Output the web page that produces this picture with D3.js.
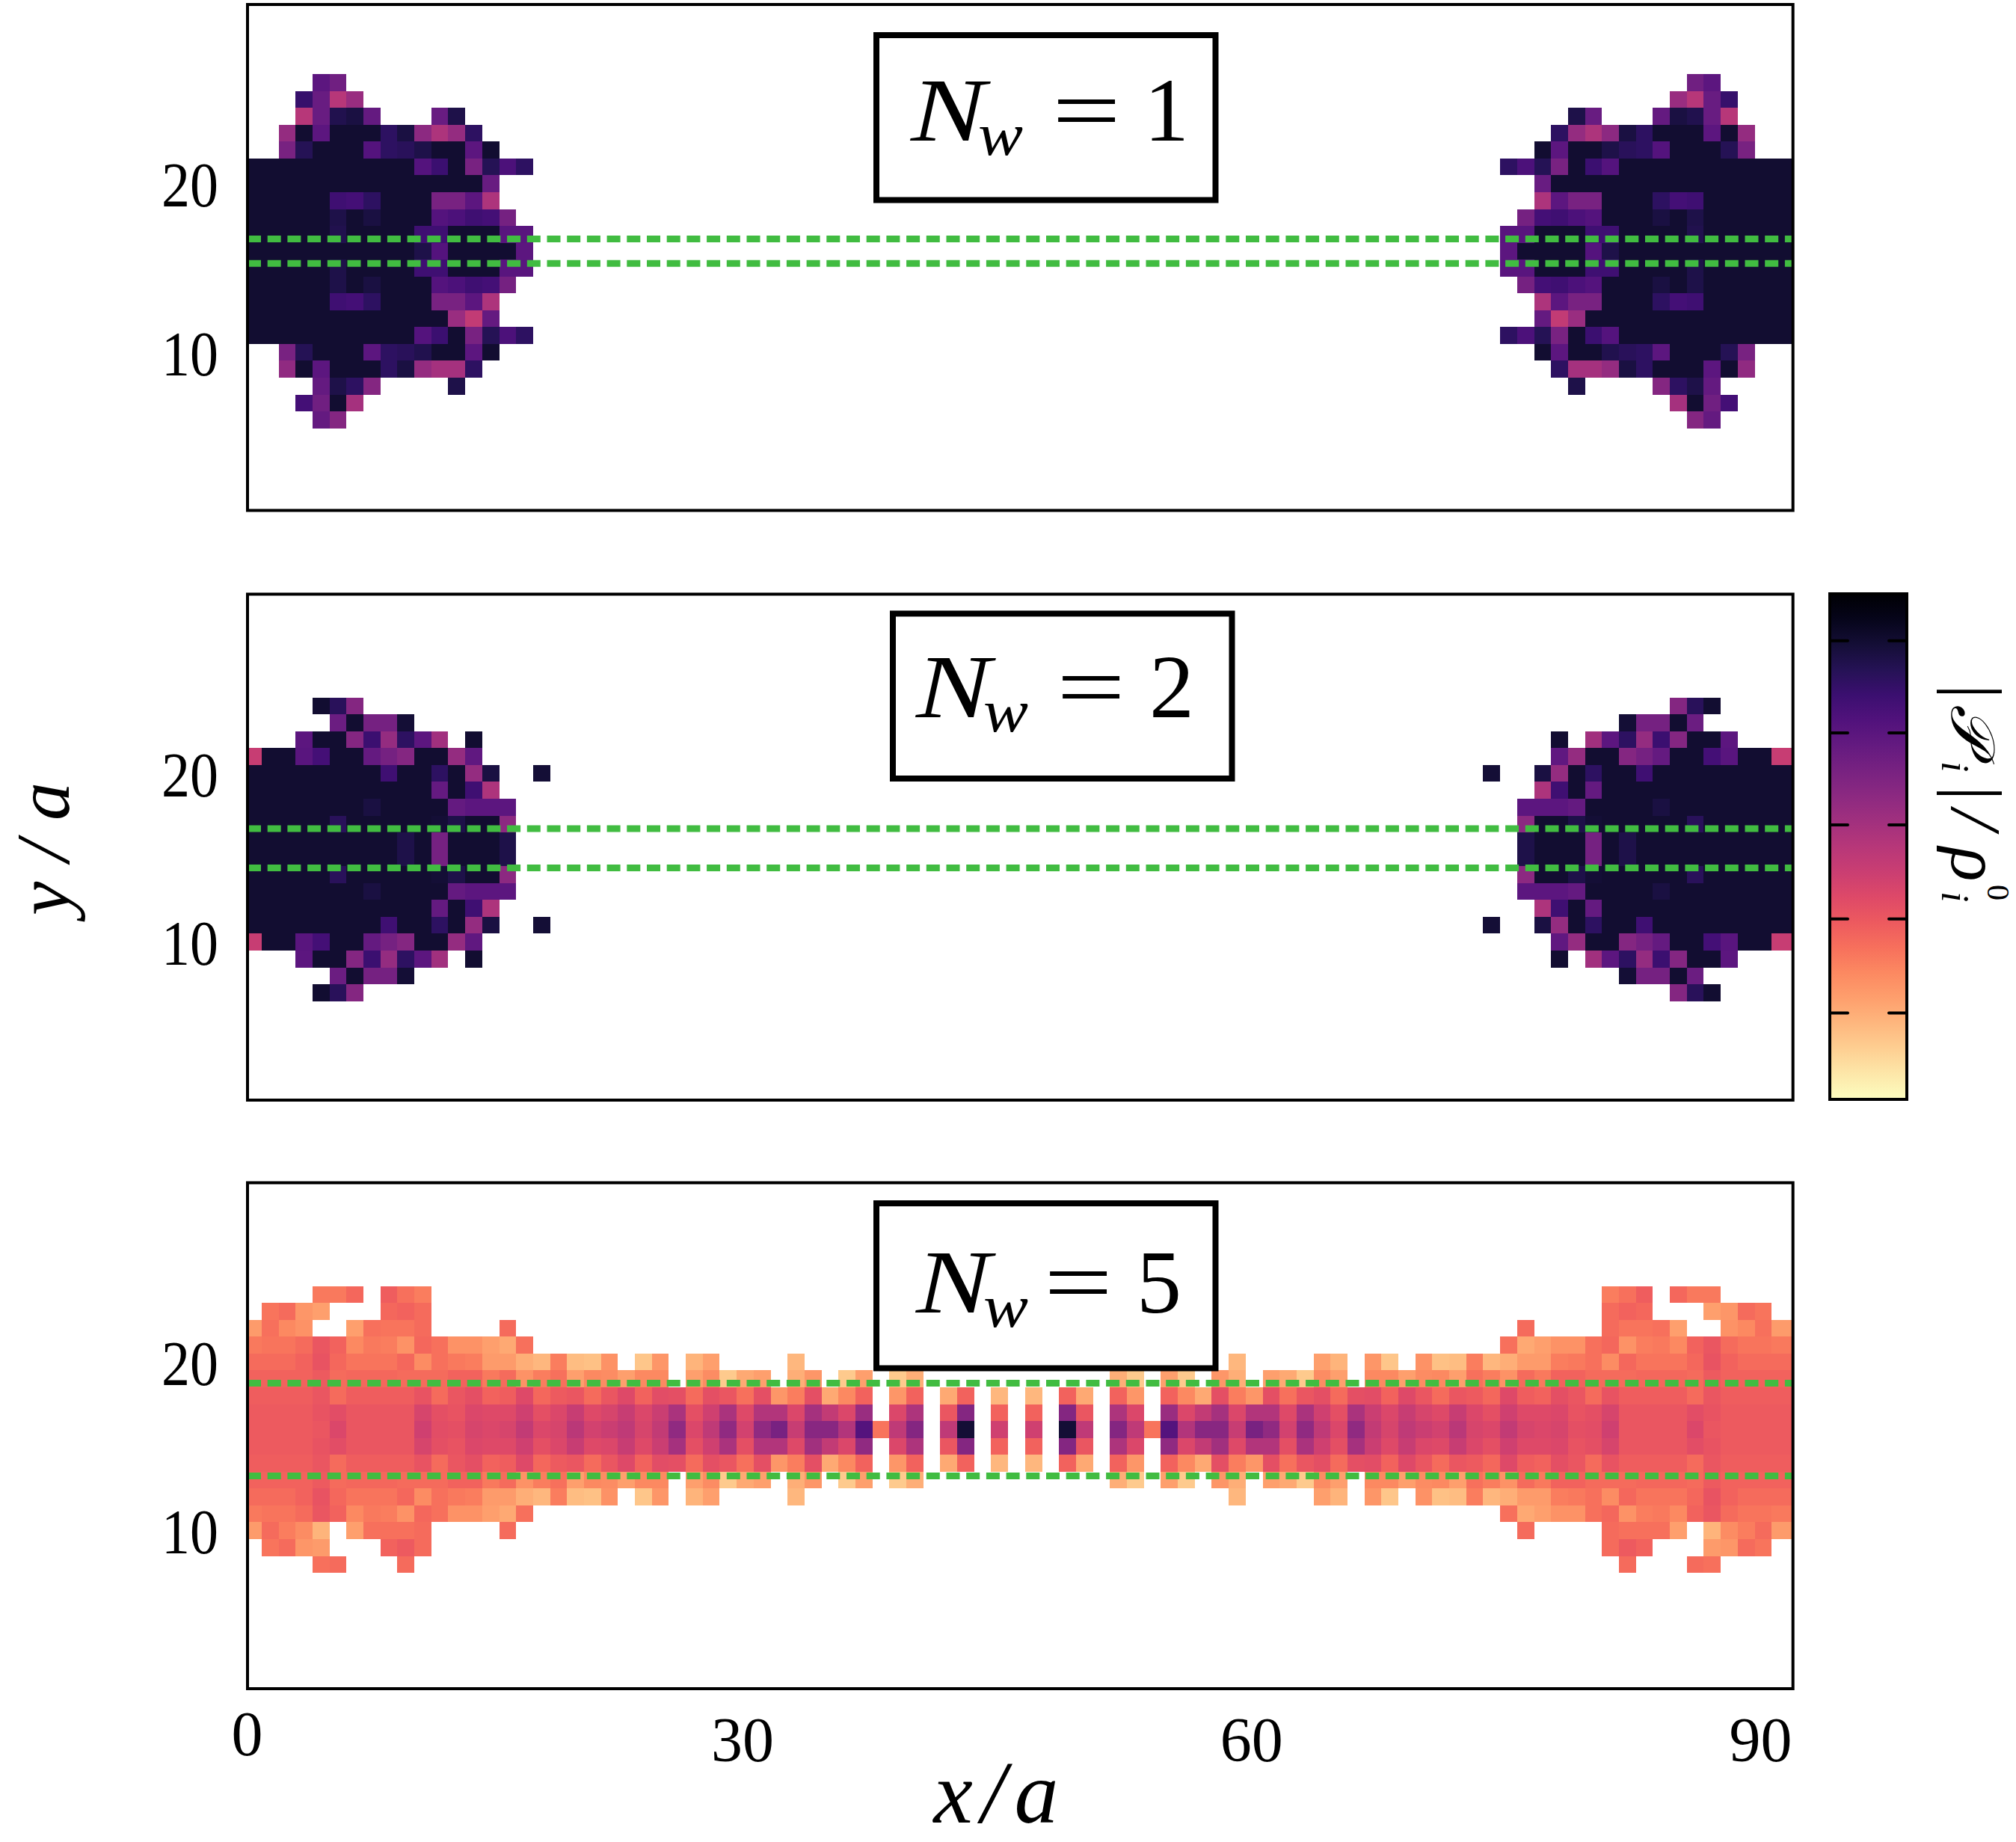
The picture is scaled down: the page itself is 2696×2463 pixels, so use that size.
<!DOCTYPE html>
<html>
<head>
<meta charset="utf-8">
<script src="https://cdnjs.cloudflare.com/ajax/libs/d3/7.8.5/d3.min.js"></script>
<style>
  html, body { margin: 0; padding: 0; background: #fff; }
  text { font-family: "Liberation Serif", serif; fill: #000; }
</style>
</head>
<body>
<div id="grafico"></div>
<script>
const _ = null;

// valores, 0-100 na barra de cor (100 = topo escuro), metade esquerda
// cada linha vai da coluna 0 em diante, a direita e o espelho (coluna 90 - c)
const rowsNw1 = [
  [_,_,_,_,72,67],
  [_,_,_,81,69,50,57],
  [_,_,_,50,69,86,88,70,_,_,_,69,87],
  [_,_,58,91,72,91,91,91,83,88,60,52,58,83],
  [_,_,65,85,91,91,91,74,83,84,87,91,91,72,91],
  [91,91,91,91,91,91,91,91,91,91,74,80,91,65,85,76,83],
  [91,91,91,91,91,91,91,91,91,91,91,91,91,91,69],
  [91,91,91,91,91,79,78,83,91,91,91,65,65,72,52],
  [91,91,91,91,91,87,91,88,91,91,91,74,76,79,78,66],
  [91,91,91,91,91,86,91,91,91,91,79,79,91,91,91,73,73],
  [91,91,91,91,91,91,91,91,91,91,87,74,91,91,91,91,72],
  [91,91,91,91,91,87,91,91,91,91,79,79,91,91,91,73,73],
  [91,91,91,91,91,87,91,88,91,91,91,74,76,79,78,66],
  [91,91,91,91,91,79,78,83,91,91,91,65,65,72,52],
  [91,91,91,91,91,91,91,91,91,91,91,91,57,47,70],
  [91,91,91,91,91,91,91,91,91,91,74,80,91,65,85,76,83],
  [_,_,65,85,91,91,91,72,83,84,86,91,91,72,91],
  [_,_,59,91,72,91,91,91,83,88,58,54,54,83],
  [_,_,_,_,70,87,83,62,_,_,_,_,87],
  [_,_,_,78,67,91,54],
  [_,_,_,_,70,62]
];
const rowsNw2 = [
  [_,_,_,_,91,84,62],
  [_,_,_,_,_,68,91,66,66,90],
  [_,_,_,72,91,91,62,80,58,83,72,55,_,91],
  [46,91,91,73,78,91,91,70,66,62,91,91,58,71],
  [91,91,91,91,91,91,91,91,79,91,91,83,91,58,88,_,_,90],
  [91,91,91,91,91,91,91,91,91,91,91,70,91,79,52],
  [91,91,91,91,91,91,91,88,91,91,91,91,70,72,72,72],
  [91,91,91,91,91,84,91,91,91,91,91,90,87,91,91,60],
  [91,91,91,91,91,91,91,91,91,87,91,66,91,91,91,87],
  [91,91,91,91,91,91,91,91,91,87,91,66,91,91,91,87],
  [91,91,91,91,91,84,91,91,91,91,91,90,87,91,91,60],
  [91,91,91,91,91,91,91,88,91,91,91,91,70,72,72,72],
  [91,91,91,91,91,91,91,91,91,91,91,70,91,79,52],
  [91,91,91,91,91,91,91,91,79,91,91,83,91,58,88,_,_,90],
  [46,91,91,73,78,91,91,70,66,62,91,91,58,71],
  [_,_,_,72,91,91,62,80,58,83,72,55,_,91],
  [_,_,_,_,_,68,91,66,66,90],
  [_,_,_,_,91,84,62]
];
const rowsNw5 = [
  [_,_,_,_,28,28,32,_,34,30,27],
  [_,29,31,22,20,_,_,_,32,33,31],
  [21,30,25,23,_,_,20,30,29,29,31,_,_,_,_,31],
  [28,29,29,31,36,33,25,28,27,23,32,30,23,23,20,18,30],
  [31,31,31,33,37,32,29,29,29,32,24,30,28,27,21,21,17,15,27,14,13,23,_,12,22,_,16,20,_,_,_,_,15],
  [33,33,33,33,35,31,32,32,32,31,31,31,33,33,28,31,23,27,30,20,25,24,20,25,25,_,20,24,11,18,20,_,17,22,_,11,20,_,11,17],
  [34,34,34,34,36,31,34,34,34,34,37,31,36,38,33,34,40,32,35,36,31,36,40,33,39,38,31,38,36,30,38,22,27,38,18,25,33,_,22,33,_,18,33,_,15],
  [35,35,35,35,37,39,36,36,36,36,42,38,37,41,40,40,44,38,41,46,40,42,46,41,45,53,38,44,53,40,51,51,41,54,47,41,57,_,41,52,_,36,62,_,33],
  [35,35,35,35,36,41,36,36,36,36,44,39,38,42,41,42,47,41,42,49,43,45,48,42,47,59,41,48,59,43,59,65,46,61,61,51,74,29,48,62,_,48,90,_,44],
  [35,35,35,35,37,39,36,36,36,36,42,38,37,41,40,40,44,38,41,46,40,41,46,40,45,54,38,44,53,38,51,51,40,55,47,41,59,_,41,52,_,36,62,_,33],
  [34,34,34,34,36,31,34,34,34,34,37,31,36,38,33,34,40,32,35,36,31,36,40,33,39,38,31,38,36,30,38,22,27,38,18,25,33,_,22,33,_,18,33,_,15],
  [33,33,33,33,35,31,32,32,32,31,31,31,33,33,28,31,23,27,30,20,25,24,20,25,25,_,20,24,11,18,20,_,17,22,_,11,20,_,11,17],
  [31,31,31,33,37,32,29,29,29,32,24,30,28,27,21,21,17,15,27,14,13,23,_,12,22,_,16,20,_,_,_,_,15],
  [28,29,29,31,36,33,25,28,27,23,32,30,23,23,20,18,30],
  [21,31,27,24,16,_,20,30,30,30,31,_,_,_,_,31],
  [_,29,31,22,21,_,_,_,33,35,31],
  [_,_,_,_,30,31,_,_,_,31]
];

const panelLabels = ["1", "2", "5"];
const topRows = [26, 24, 24];
const leadEdges = [[16.73, 15.28], [16.73, 14.4], [18.74, 13.25]];
const yTickValues = [10, 20];
const xTickValues = [0.8, 30, 60, 90];
const xTickLabels = ["0", "30", "60", "90"];
const cbarTicks = [90.7, 72.5, 54.3, 35.7, 17.1];

const largura = 2696, altura = 2463;
const frameLeft = 331, frameRight = 2397.7;
const panelTops = [6, 794.5, 1581.5];
const panelBottoms = [682.5, 1471, 2258];
const boxLefts = [1172, 1194, 1172];
const boxTops = [47, 820.5, 1609];
const boxW = 453.5, boxH = 220.5;
const labelShift = [[46, 141], [31, 138], [53, 146]];
const eqShift = [189, 188, 171];
const digitShift = [312, 312, 295];

let svg = d3.select('#grafico').append('svg')
  .attr('width', largura)
  .attr('height', altura)
  .style('display', 'block');

let color = d3.scaleSequential(d3.interpolateMagma).domain([100, 0]);

let xScale = d3.scaleLinear().domain([0.8, 91.9]).range([frameLeft - 1, frameRight - 0.7]).clamp(true);

function flatten(rows, topRow) {
  let cells = [];
  rows.forEach((row, i) => {
    row.forEach((v, c) => {
      if (v === null) return;
      cells.push({ c: c, y: topRow - i, v: v });
      if (c !== 45) cells.push({ c: 90 - c, y: topRow - i, v: v });
    });
  });
  return cells;
}

const allRows = [rowsNw1, rowsNw2, rowsNw5];

allRows.forEach((rows, p) => {
  let yScale = d3.scaleLinear().domain([0.63, 30.63]).range([panelBottoms[p], panelTops[p]]);
  let g = svg.append('g').attr('class', 'painel');

  // celulas
  g.append('g').selectAll('rect')
    .data(flatten(rows, topRows[p]))
    .enter()
    .append('rect')
    .attr('x', d => xScale(d.c + 0.675))
    .attr('y', d => yScale(d.y + 0.5))
    .attr('width', d => (d.c === 90 ? xScale.range()[1] : xScale(d.c + 1.675)) - xScale(d.c + 0.675))
    .attr('height', d => yScale(d.y - 0.5) - yScale(d.y + 0.5))
    .attr('fill', d => color(d.v))
    .attr('shape-rendering', 'crispEdges');

  // linhas verdes
  g.append('g').selectAll('line')
    .data(leadEdges[p])
    .enter()
    .append('line')
    .attr('x1', frameLeft)
    .attr('x2', frameRight)
    .attr('y1', d => yScale(d))
    .attr('y2', d => yScale(d))
    .attr('stroke', '#41bc41')
    .attr('stroke-width', 9)
    .attr('stroke-dasharray', '18,8.7');

  // moldura
  g.append('rect')
    .attr('x', frameLeft)
    .attr('y', panelTops[p])
    .attr('width', frameRight - frameLeft)
    .attr('height', panelBottoms[p] - panelTops[p])
    .attr('fill', 'none')
    .attr('stroke', '#000')
    .attr('stroke-width', 4);

  // eixo y
  let yAxis = g.append('g')
    .attr('transform', 'translate(' + frameLeft + ',0)')
    .call(d3.axisLeft(yScale).tickValues(yTickValues).tickSize(0).tickPadding(39));
  yAxis.select('.domain').remove();
  yAxis.selectAll('text')
    .style('font-family', '"Liberation Serif", serif')
    .style('font-size', '84px')
    .attr('dy', '0.36em')
    .attr('textLength', 76)
    .attr('lengthAdjust', 'spacingAndGlyphs');

  // caixa com N_w
  g.append('rect')
    .attr('x', boxLefts[p])
    .attr('y', boxTops[p])
    .attr('width', boxW)
    .attr('height', boxH)
    .attr('fill', '#fff')
    .attr('stroke', '#000')
    .attr('stroke-width', 8);

  let lx = boxLefts[p] + labelShift[p][0];
  let ly = boxTops[p] + labelShift[p][1];
  g.append('text').attr('x', lx).attr('y', ly)
    .attr('font-size', 120).attr('font-style', 'italic')
    .attr('textLength', 100).attr('lengthAdjust', 'spacingAndGlyphs').text('N');
  g.append('text').attr('x', lx + 90).attr('y', ly + 19)
    .attr('font-size', 80).attr('font-style', 'italic')
    .attr('textLength', 60).attr('lengthAdjust', 'spacingAndGlyphs').text('w');
  g.append('text').attr('x', lx + eqShift[p]).attr('y', ly)
    .attr('font-size', 120)
    .attr('textLength', 92).attr('lengthAdjust', 'spacingAndGlyphs').text('=');
  g.append('text').attr('x', lx + digitShift[p]).attr('y', ly)
    .attr('font-size', 120)
    .text(panelLabels[p]);
});

// eixo x
let xAxis = svg.append('g')
  .attr('transform', 'translate(0,' + panelBottoms[2] + ')')
  .call(d3.axisBottom(xScale).tickValues(xTickValues).tickSize(0).tickFormat((d, i) => xTickLabels[i]));
xAxis.select('.domain').remove();
xAxis.selectAll('text')
  .style('font-family', '"Liberation Serif", serif')
  .style('font-size', '84px')
  .attr('dy', 0)
  .attr('y', (d, i) => i === 0 ? 89 : 97);

svg.append('text')
  .attr('x', 1332).attr('y', 2437)
  .attr('text-anchor', 'middle')
  .attr('font-size', 118).attr('font-style', 'italic')
  .attr('textLength', 167).attr('lengthAdjust', 'spacing')
  .text('x/a');

svg.append('text')
  .attr('transform', 'translate(92,1135) rotate(-90)')
  .attr('text-anchor', 'middle')
  .attr('font-size', 102).attr('font-style', 'italic')
  .attr('textLength', 178).attr('lengthAdjust', 'spacing')
  .text('y/a');

// barra de cor
const barLeft = 2447, barRight = 2550, barTop = 794, barBottom = 1470;
let cbar = d3.scaleLinear().domain([0, 100]).range([barBottom, barTop]);

let grad = svg.append('defs').append('linearGradient')
  .attr('id', 'magma').attr('x1', 0).attr('x2', 0).attr('y1', 0).attr('y2', 1);
grad.selectAll('stop')
  .data(d3.range(0, 101, 5))
  .enter()
  .append('stop')
  .attr('offset', d => d + '%')
  .attr('stop-color', d => color(100 - d));

svg.append('rect')
  .attr('x', barLeft).attr('y', barTop)
  .attr('width', barRight - barLeft).attr('height', barBottom - barTop)
  .attr('fill', 'url(#magma)')
  .attr('stroke', '#000').attr('stroke-width', 4);

svg.append('g').selectAll('line')
  .data(cbarTicks.flatMap(t => [{ t: t, x1: barLeft, x2: barLeft + 24 }, { t: t, x1: barRight - 24, x2: barRight }]))
  .enter()
  .append('line')
  .attr('x1', d => d.x1).attr('x2', d => d.x2)
  .attr('y1', d => cbar(d.t)).attr('y2', d => cbar(d.t))
  .attr('stroke', '#000').attr('stroke-width', 4).attr('stroke-linecap', 'round');

// rotulo da barra de cor, |P_i|/rho_i^0 girado 90 graus
let cbLabel = svg.append('g').attr('transform', 'translate(2610,924) rotate(90)');
cbLabel.append('text').attr('x', -9).attr('y', 0).attr('font-size', 95).text('|');
cbLabel.append('text').attr('x', 18).attr('y', 0).attr('font-size', 82).attr('font-style', 'italic')
  .style('font-family', '"DejaVu Serif", "Liberation Serif", serif').text('𝒫');
cbLabel.append('text').attr('x', 94).attr('y', 13).attr('font-size', 52).attr('font-style', 'italic').text('i');
cbLabel.append('text').attr('x', 127).attr('y', 0).attr('font-size', 95).text('|');
cbLabel.append('text').attr('x', 158).attr('y', 0).attr('font-size', 95).attr('font-style', 'italic').text('/');
cbLabel.append('text').attr('x', 209).attr('y', 0).attr('font-size', 95).attr('font-style', 'italic').text('ρ');
cbLabel.append('text').attr('x', 268).attr('y', 13).attr('font-size', 52).attr('font-style', 'italic').text('i');
cbLabel.append('text').attr('x', 259).attr('y', -48).attr('font-size', 42).text('0');
</script>
</body>
</html>
